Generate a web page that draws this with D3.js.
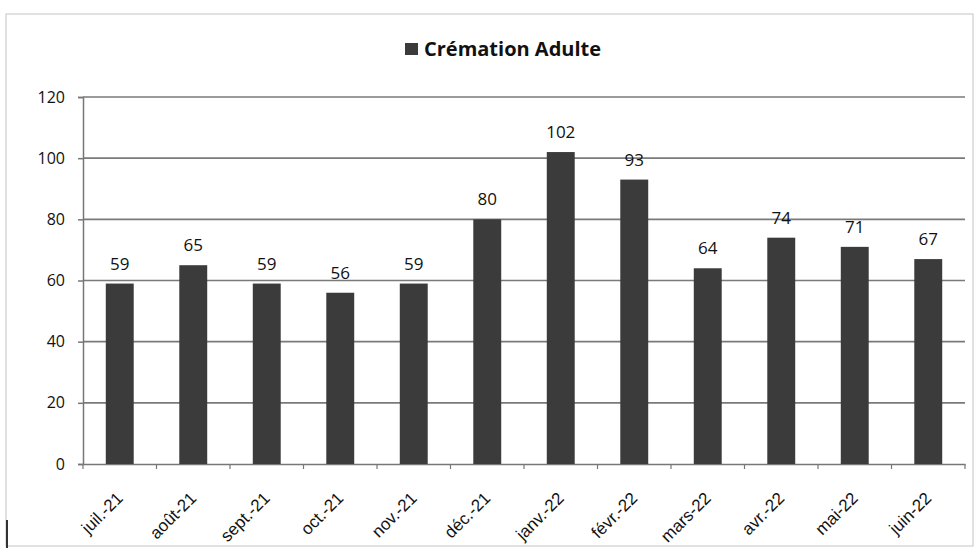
<!DOCTYPE html>
<html>
<head>
<meta charset="utf-8">
<script src="https://cdn.jsdelivr.net/npm/d3@7/dist/d3.min.js"></script>
<style>
  html, body { margin: 0; padding: 0; background: #fff; }
  svg { display: block; font-family: "Open Sans", "Liberation Sans", sans-serif; }
</style>
</head>
<body>
<svg id="chart" width="979" height="554"></svg>
<script>
const categories = ["juil.-21", "août-21", "sept.-21", "oct.-21", "nov.-21", "déc.-21",
                    "janv.-22", "févr.-22", "mars-22", "avr.-22", "mai-22", "juin-22"];
const values = [59, 65, 59, 56, 59, 80, 102, 93, 64, 74, 71, 67];
const yTicks = [0, 20, 40, 60, 80, 100, 120];
const seriesName = "Crémation Adulte";

const svg = d3.select("#chart");
const W = 979, H = 554;
const m = { left: 83, right: 14, top: 97, bottom: 90 };

// outer frame
svg.append("rect").attr("x", 6).attr("y", 14).attr("width", W - 12).attr("height", H - 22)
  .attr("fill", "none").attr("stroke", "#c4c4c4").attr("stroke-width", 1);
svg.append("line").attr("x1", 7).attr("x2", 7).attr("y1", 520).attr("y2", 548)
  .attr("stroke", "#333").attr("stroke-width", 2);

const x = d3.scaleBand().domain(categories).range([m.left, W - m.right]).paddingInner(0.62).paddingOuter(0.31);
const y = d3.scaleLinear().domain([0, 120]).range([H - m.bottom, m.top]);

// gridlines
svg.append("g").selectAll("line").data(yTicks.filter(d => d > 0)).join("line")
  .attr("x1", m.left).attr("x2", W - m.right)
  .attr("y1", d => y(d)).attr("y2", d => y(d))
  .attr("stroke", "#7a7a7a").attr("stroke-width", 1.6);

// y axis
const yAxis = svg.append("g").attr("transform", `translate(${m.left},0)`)
  .call(d3.axisLeft(y).tickValues(yTicks).tickSize(5).tickPadding(13));
yAxis.select(".domain").attr("stroke", "#777").attr("stroke-width", 1.5);
yAxis.selectAll(".tick line").attr("stroke", "#777").attr("stroke-width", 1.5);
yAxis.selectAll(".tick text").attr("font-size", 16).attr("fill", "#111")
  .attr("font-weight", 500)
  .attr("font-family", "'Open Sans', sans-serif");

// x axis
const step = x.step();
const xAxis = svg.append("g").attr("transform", `translate(0,${y(0)})`)
  .call(d3.axisBottom(x).tickSize(0).tickPadding(0));
xAxis.select(".domain").attr("stroke", "#777").attr("stroke-width", 1.5);
// boundary ticks between categories
svg.append("g").selectAll("line").data(d3.range(categories.length + 1)).join("line")
  .attr("x1", i => m.left + i * step).attr("x2", i => m.left + i * step)
  .attr("y1", y(0)).attr("y2", y(0) + 5)
  .attr("stroke", "#777").attr("stroke-width", 1.2);
xAxis.selectAll(".tick text")
  .attr("font-size", 17).attr("fill", "#111")
  .attr("font-weight", 500)
  .attr("text-anchor", "end")
  .attr("transform", "translate(0,31) rotate(-45)")
  .attr("dy", "0.35em");

// bars
svg.append("g").selectAll("rect").data(values).join("rect")
  .attr("x", (d, i) => x(categories[i]))
  .attr("width", x.bandwidth())
  .attr("y", d => y(d))
  .attr("height", d => y(0) - y(d))
  .attr("fill", "#3b3b3b");

// data labels
svg.append("g").selectAll("text").data(values).join("text")
  .attr("x", (d, i) => x(categories[i]) + x.bandwidth() / 2)
  .attr("y", d => y(d) - 14)
  .attr("text-anchor", "middle")
  .attr("font-size", 17).attr("font-weight", 500).attr("fill", "#111")
  .text(d => d);

// legend
const lg = svg.append("g");
lg.append("rect").attr("x", 405).attr("y", 43).attr("width", 13).attr("height", 12).attr("fill", "#3b3b3b");
lg.append("text").attr("x", 424).attr("y", 56).attr("font-size", 20).attr("font-weight", "bold")
  .attr("fill", "#111").text(seriesName);
</script>
</body>
</html>
